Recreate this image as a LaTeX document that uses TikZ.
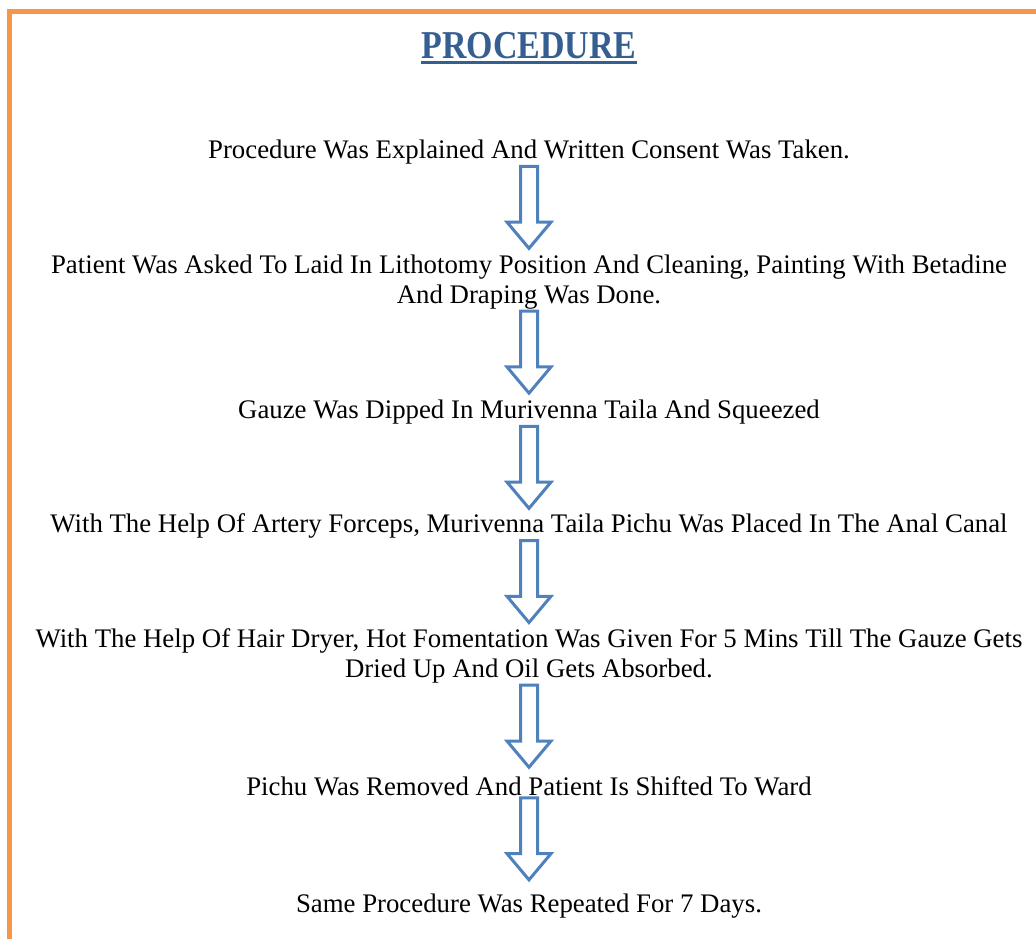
\documentclass[tikz,border=0pt]{standalone}
\usepackage{fontspec}
\setmainfont{Liberation Serif}
\newfontfamily\titlefont[FakeStretch=0.86]{Liberation Serif}
\usepackage{tikz}
\usetikzlibrary{shapes.arrows}
\definecolor{framecolor}{HTML}{F79646}
\definecolor{titleblue}{HTML}{365F91}
\definecolor{arrowblue}{HTML}{4F81BD}
\tikzstyle{stage}=[align=center,inner sep=0pt,font=\fontsize{26.8}{29.5}\selectfont]
\tikzstyle{downarrow}=[single arrow,shape border rotate=270,draw=arrowblue,line width=3pt,fill=white,minimum height=82pt,inner sep=7pt,single arrow head extend=13.5pt,single arrow tip angle=80,anchor=tail,yshift=-0.5pt]

\begin{document}
\begin{tikzpicture}[x=1pt,y=1pt,node distance=130pt]
\useasboundingbox (0,0) rectangle (1036,-939);
\fill[white] (0,0) rectangle (1036,-939);
\draw[framecolor,line width=5pt] (9.5,-939) -- (9.5,-11.5) -- (1036,-11.5);
\node(title)[inner sep=0pt,text=titleblue,font=\titlefont\bfseries\fontsize{39.5}{40}\selectfont,anchor=base] at (529,-59) {PROCEDURE};
\draw[titleblue,line width=2.5pt]([yshift=-3.5pt]title.base west)--([yshift=-3.5pt]title.base east);

\node(first)[stage] at (529,-152) {Procedure Was Explained And Written Consent Was Taken.};
\node(second)[stage,below of=first]{Patient Was Asked To Laid In Lithotomy Position And Cleaning, Painting With Betadine\\And Draping Was Done.};
\node(third)[stage,below of=second]{Gauze Was Dipped In Murivenna Taila And Squeezed};
\node(fourth)[stage,below of=third,node distance=114pt]{With The Help Of Artery Forceps, Murivenna Taila Pichu Was Placed In The Anal Canal};
\node(fifth)[stage,below of=fourth]{With The Help Of Hair Dryer, Hot Fomentation Was Given For 5 Mins Till The Gauze Gets\\Dried Up And Oil Gets Absorbed.};
\node(sixth)[stage,below of=fifth]{Pichu Was Removed And Patient Is Shifted To Ward};
\node(seventh)[stage,below of=sixth,node distance=120pt]{Same Procedure Was Repeated For 7 Days.};

\path(first)--(second) node[pos=0,downarrow]{};
\path(second)--(third) node[pos=0,downarrow]{};
\path(third)--(fourth) node[pos=0,downarrow]{};
\path(fourth)--(fifth) node[pos=0,downarrow]{};
\path(fifth)--(sixth) node[pos=0,downarrow]{};
\path(sixth)--(seventh) node[pos=0,downarrow]{};
\end{tikzpicture}
\end{document}
